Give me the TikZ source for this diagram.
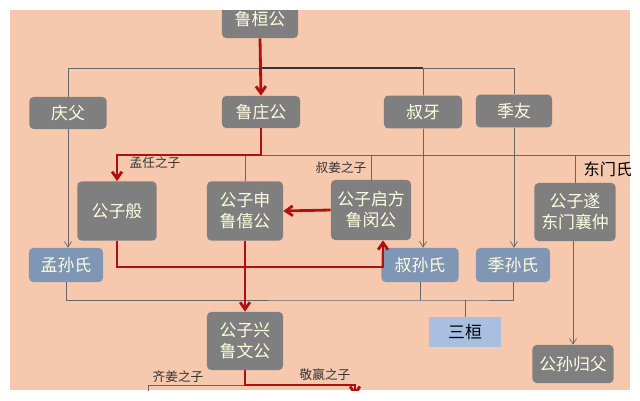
\documentclass[tikz,border=0pt]{standalone}
\usepackage{fontspec}
\newfontfamily\cjk{Noto Sans CJK SC}
\usetikzlibrary{arrows.meta}
\definecolor{bgsalmon}{HTML}{F6C9AE}
\definecolor{boxgray}{HTML}{7F7F7F}
\definecolor{boxblue}{HTML}{7F97B5}
\definecolor{boxlight}{HTML}{A9BFE0}
\definecolor{linered}{HTML}{B01010}
\begin{document}
\begin{tikzpicture}[x=0.025cm, y=-0.025cm,
  person/.style = {fill=boxgray, rounded corners=3pt, text=white!88!yellow, font=\cjk\fontsize{12}{15}\selectfont, align=center, inner sep=0pt},
  clan/.style = {person, fill=boxblue},
  note/.style = {font=\cjk\fontsize{9}{11}\selectfont, text=black!80},
  thin/.style = {draw=black!60, line width=0.5pt},
  heir/.style = {draw=linered, line width=2pt},
  tip/.style = {-{Straight Barb[length=5pt, width=7pt]}},
  ltip/.style = {-{Straight Barb[length=4pt, width=5pt]}}]
\useasboundingbox (0,0) rectangle (640,401);
\fill[bgsalmon] (10,10) rectangle (630,390);
\begin{scope}
\clip (10,10) rectangle (630,390);
% generation of Duke Huan
\node[person, minimum width=1.9cm, minimum height=0.95cm] (huan) at (260,19) {鲁桓公};
\node[person, minimum width=1.95cm, minimum height=0.8cm] (zhuang) at (261,112) {鲁庄公};
\node[person, minimum width=1.93cm, minimum height=0.8cm] (qingfu) at (68,113) {庆父};
\node[person, minimum width=1.95cm, minimum height=0.82cm] (shuya) at (423,112) {叔牙};
\node[person, minimum width=1.9cm, minimum height=0.82cm] (jiyou) at (514,111) {季友};
% sons of Duke Zhuang
\node[person, minimum width=1.98cm, minimum height=1.48cm] (ban) at (117,211) {公子般};
\node[person, minimum width=1.9cm, minimum height=1.48cm] (shen) at (245,211) {公子申\\鲁僖公};
\node[person, minimum width=2cm, minimum height=1.5cm] (qifang) at (371,210) {公子启方\\鲁闵公};
\node[person, minimum width=2.03cm, minimum height=1.45cm] (sui) at (575,212) {公子遂\\东门襄仲};
% clans
\node[clan, minimum width=1.85cm, minimum height=0.85cm] (mengsun) at (66,265) {孟孙氏};
\node[clan, minimum width=1.93cm, minimum height=0.85cm] (shusun) at (420,265) {叔孙氏};
\node[clan, minimum width=1.85cm, minimum height=0.85cm] (jisun) at (513,265) {季孙氏};
\node[fill=boxlight, text=black, font=\cjk\fontsize{12}{15}\selectfont, minimum width=1.78cm, minimum height=0.73cm] (sanhuan) at (465,332) {三桓};
\node[person, minimum width=1.9cm, minimum height=1.45cm] (xing) at (245,341) {公子兴\\鲁文公};
\node[person, minimum width=2.03cm, minimum height=0.95cm] (guifu) at (573,364) {公孙归父};
% labels
\node[note] (mengren) at (155,163) {孟任之子};
\node[note] (shujiang) at (341,168) {叔姜之子};
\node[font=\cjk\fontsize{11.5}{13}\selectfont, text=black] (dongmen) at (608,169) {东门氏};
\node[note] (qijiang) at (178,377) {齐姜之子};
\node[note] (jingying) at (325,375) {敬嬴之子};
% thin lines
\draw[thin] (qingfu.north) |- (68,68) -| (jiyou.north);
\draw[thin] (shuya.north) -- (423,68);
\draw[thin, line width=1.2pt, draw=black!80] (260,68) -- (423,68);
\draw[thin] (261,155) -| (shen.north);
\draw[thin] (261,155) -| (qifang.north);
\draw[thin] (261,155) -- (640,155);
\draw[thin] (sui.north) -- (575,155);
\draw[thin, ltip] (qingfu.south) -- (mengsun.north -| qingfu);
\draw[thin, ltip] (shuya.south) -- (shuya |- shusun.north);
\draw[thin, ltip] (jiyou.south) -- (jiyou |- jisun.north);
\draw[thin] (mengsun.south) |- (465,300) -| (jisun.south);
\draw[thin] (shusun.south) -- (420,300);
\draw[thin] (465,300) -- (sanhuan.north);
\draw[thin, ltip] (sui.south -| guifu) -- (guifu.north);
\draw[thin] (148,395) |- (245,385);
% line of succession
\draw[heir, tip] (huan.south) -- (zhuang.north);
\draw[heir, tip] (zhuang.south) |- (117,155) -- (ban.north);
\draw[heir, tip] (ban.south) |- (383,267) -- (qifang.south -| 383,0);
\draw[heir, tip] (qifang.west) -- (shen.east);
\draw[heir, tip] (shen.south) -- (xing.north);
\draw[heir, tip] (xing.south) |- (355,385) -- (355,396);
\end{scope}
\end{tikzpicture}
\end{document}
